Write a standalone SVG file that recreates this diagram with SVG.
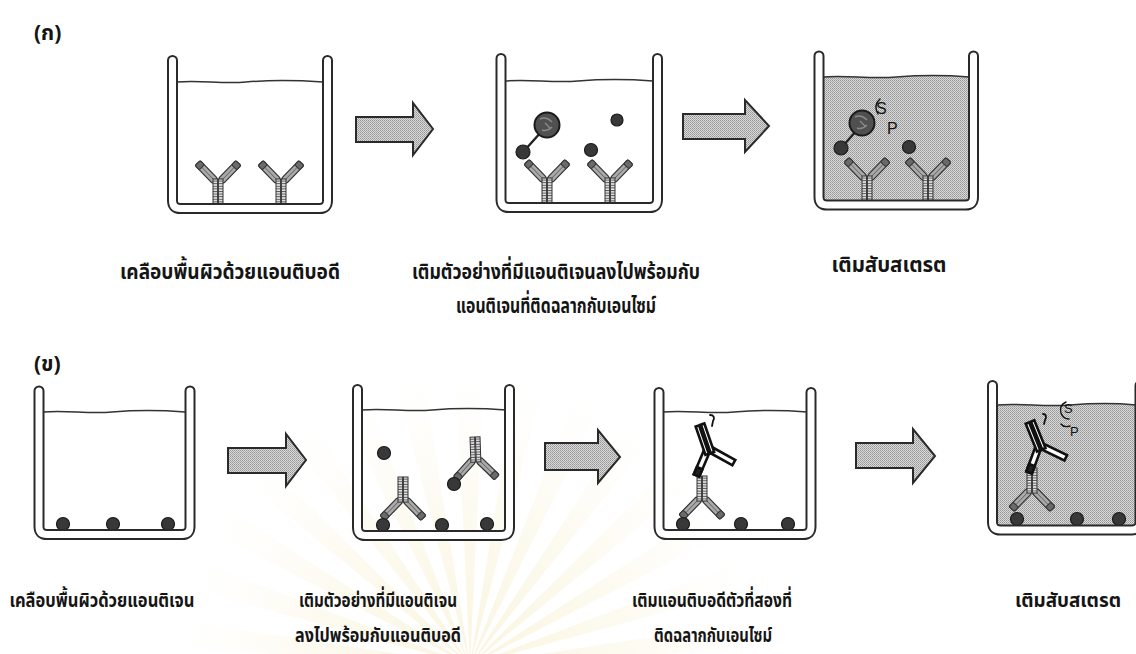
<svg xmlns="http://www.w3.org/2000/svg" xmlns:xlink="http://www.w3.org/1999/xlink" width="1136" height="654" viewBox="0 0 1136 654">
  <style>
    .wo { fill: none; stroke: #2a2a2a; stroke-width: 11; stroke-linecap: round; stroke-linejoin: round; }
    .wi { fill: none; stroke: #ffffff; stroke-width: 7; stroke-linecap: round; stroke-linejoin: round; }
    .liq { fill: none; stroke: #333; stroke-width: 1.5; }
    .shade { fill: url(#stip); }
    .arrow { fill: url(#stip); stroke: #2a2a2a; stroke-width: 2; stroke-linejoin: miter; }
    .ag { fill: #383838; stroke: #1a1a1a; stroke-width: 1.2; }
    .enz { fill: #505050; stroke: #1a1a1a; stroke-width: 2; }
    .enzmark { fill: none; stroke: #8a8a8a; stroke-width: 1.4; }
    .link { stroke: #222; stroke-width: 2.4; fill: none; }
    .tag { fill: none; stroke: #111; stroke-width: 1.8; stroke-linecap: round; }
    .sp { font-family: "Liberation Sans", Arial, sans-serif; font-size: 16px; fill: #111; }
    .lbl { font-family: "Noto Sans Thai", "Noto Sans", "DejaVu Sans", sans-serif; font-weight: bold; font-size: 22px; fill: #151515; text-anchor: middle; }
    .lbl2 { font-size: 20px; }
    .hd { font-family: "Noto Sans Thai", "Noto Sans", "DejaVu Sans", sans-serif; font-weight: bold; font-size: 21px; fill: #151515; }
  </style>
  <defs>
    <pattern id="stip" width="2" height="2" patternUnits="userSpaceOnUse">
      <rect width="2" height="2" fill="#dadada"/>
      <rect width="1" height="1" fill="#959595"/>
      <rect x="1" y="1" width="1" height="1" fill="#a8a8a8"/>
    </pattern>
    <pattern id="hatch" width="4" height="2.6" patternUnits="userSpaceOnUse">
      <rect width="4" height="2.6" fill="#e6e6e6"/>
      <rect width="4" height="1" fill="#555"/>
    </pattern>
    <radialGradient id="glow" gradientUnits="userSpaceOnUse" cx="0" cy="0" r="290">
      <stop offset="0" stop-color="#f1df9a" stop-opacity="0.32"/>
      <stop offset="0.55" stop-color="#f4e7b6" stop-opacity="0.2"/>
      <stop offset="1" stop-color="#f7efd2" stop-opacity="0"/>
    </radialGradient>
    <polygon id="ray" points="0,0 -14,-290 14,-290" fill="url(#glow)"/>

    <!-- grey antibody, base of stem at origin, arms pointing up -->
    <g id="ab">
      <g transform="translate(-3,-23) rotate(-44)">
        <rect x="-3.6" y="-25" width="7.2" height="25" rx="1.5" fill="#a9a9a9" stroke="#333" stroke-width="1.2"/>
        <line x1="0" y1="-25" x2="0" y2="0" stroke="#555" stroke-width="0.8"/>
        <rect x="-3.6" y="-25" width="7.2" height="6" rx="1.5" fill="#6a6a6a" stroke="#333" stroke-width="1"/>
      </g>
      <g transform="translate(3,-23) rotate(44)">
        <rect x="-3.6" y="-25" width="7.2" height="25" rx="1.5" fill="#a9a9a9" stroke="#333" stroke-width="1.2"/>
        <line x1="0" y1="-25" x2="0" y2="0" stroke="#555" stroke-width="0.8"/>
        <rect x="-3.6" y="-25" width="7.2" height="6" rx="1.5" fill="#6a6a6a" stroke="#333" stroke-width="1"/>
      </g>
      <rect x="-5" y="-25" width="4.6" height="25" fill="url(#hatch)" stroke="#333" stroke-width="1"/>
      <rect x="0.4" y="-25" width="4.6" height="25" fill="url(#hatch)" stroke="#333" stroke-width="1"/>
    </g>

    <!-- enzyme-labelled second antibody, drawn in heavy black -->
    <g id="abk">
      <g transform="translate(-3,-28) rotate(-42)">
        <rect x="-3" y="-25" width="6" height="25" fill="#fff" stroke="#111" stroke-width="2.6"/>
      </g>
      <g transform="translate(3,-28) rotate(42)">
        <rect x="-3" y="-25" width="6" height="25" fill="#fff" stroke="#111" stroke-width="2.6"/>
        <rect x="-3" y="-25" width="6" height="8" fill="#222" stroke="#111" stroke-width="2.6"/>
      </g>
      <rect x="-4.6" y="-30" width="3.6" height="30" fill="#fff" stroke="#111" stroke-width="2.6"/>
      <rect x="1" y="-30" width="3.6" height="30" fill="#fff" stroke="#111" stroke-width="2.6"/>
    </g>

    <!-- well outlines (centre line of the double wall) -->
    <path id="p1" d="M172.5,60.5 V200.5 Q172.5,208.5 180.5,208.5 H319.5 Q327.5,208.5 327.5,200.5 V60.5"/>
    <path id="p2" d="M501,58.5 V199.5 Q501,207.5 509,207.5 H649.5 Q657.5,207.5 657.5,199.5 V58.5"/>
    <path id="p3" d="M819,56 V197 Q819,205 827,205 H965.5 Q973.5,205 973.5,197 V56"/>
    <path id="p4" d="M39,391 V526.5 Q39,534.5 47,534.5 H182 Q190,534.5 190,526.5 V391"/>
    <path id="p5" d="M357.5,389.5 V527.5 Q357.5,535.5 365.5,535.5 H501.5 Q509.5,535.5 509.5,527.5 V389.5"/>
    <path id="p6" d="M659,392.5 V526.5 Q659,534.5 667,534.5 H803 Q811,534.5 811,526.5 V392.5"/>
    <path id="p7" d="M992.5,385.5 V522 Q992.5,530 1000.5,530 H1132 Q1140,530 1140,522 V385.5"/>
  </defs>

  <rect width="1136" height="654" fill="#ffffff"/>

  <!-- faint sunburst mark behind the lower row -->
  <g id="sunburst">
    <use xlink:href="#ray" transform="translate(470,665) rotate(-84)"/>
    <use xlink:href="#ray" transform="translate(470,665) rotate(-72)"/>
    <use xlink:href="#ray" transform="translate(470,665) rotate(-60)"/>
    <use xlink:href="#ray" transform="translate(470,665) rotate(-48)"/>
    <use xlink:href="#ray" transform="translate(470,665) rotate(-36)"/>
    <use xlink:href="#ray" transform="translate(470,665) rotate(-24)"/>
    <use xlink:href="#ray" transform="translate(470,665) rotate(-12)"/>
    <use xlink:href="#ray" transform="translate(470,665) rotate(0)"/>
    <use xlink:href="#ray" transform="translate(470,665) rotate(12)"/>
    <use xlink:href="#ray" transform="translate(470,665) rotate(24)"/>
    <use xlink:href="#ray" transform="translate(470,665) rotate(36)"/>
    <use xlink:href="#ray" transform="translate(470,665) rotate(48)"/>
    <use xlink:href="#ray" transform="translate(470,665) rotate(60)"/>
    <use xlink:href="#ray" transform="translate(470,665) rotate(72)"/>
    <use xlink:href="#ray" transform="translate(470,665) rotate(84)"/>
  </g>

  <text class="hd" x="34" y="40">(ก)</text>
  <text class="hd" x="34" y="371">(ข)</text>

  <!-- (ก) step 1: antibody-coated well -->
  <g id="well-a1">
    <path class="liq" d="M177,82 C200,80 222,84 246,82 S292,80 323,82"/>
    <use xlink:href="#ab" x="218" y="204"/>
    <use xlink:href="#ab" x="281" y="204"/>
    <use xlink:href="#p1" class="wo"/>
    <use xlink:href="#p1" class="wi"/>
  </g>

  <!-- (ก) step 2: sample antigen + enzyme-labelled antigen -->
  <g id="well-a2">
    <path class="liq" d="M505,81 C530,79 552,83 578,81 S625,79 653,81"/>
    <use xlink:href="#ab" x="547" y="203"/>
    <use xlink:href="#ab" x="610" y="203"/>
    <line class="link" x1="524" y1="151" x2="542" y2="131"/>
    <circle class="enz" cx="547" cy="125" r="12.5"/>
    <path class="enzmark" d="M540,119 q6,-3 12,3 M542,130 q5,2 10,-3 M545,123 l5,5"/>
    <circle class="ag" cx="523" cy="152" r="7"/>
    <circle class="ag" cx="617" cy="120" r="6"/>
    <circle class="ag" cx="591" cy="150" r="6.5"/>
    <use xlink:href="#p2" class="wo"/>
    <use xlink:href="#p2" class="wi"/>
  </g>

  <!-- (ก) step 3: substrate added -->
  <g id="well-a3">
    <path class="shade" d="M819,77 C845,75 870,79 896,77 S945,75 973.5,77 V205 H819 Z"/>
    <path class="liq" d="M823,77 C845,75 870,79 896,77 S945,75 969,77"/>
    <use xlink:href="#ab" x="867" y="201"/>
    <use xlink:href="#ab" x="928" y="201"/>
    <line class="link" x1="842" y1="147" x2="857" y2="130"/>
    <circle class="enz" cx="862" cy="123" r="12.5"/>
    <path class="enzmark" d="M855,117 q6,-3 12,3 M857,128 q5,2 10,-3 M860,121 l5,5"/>
    <circle class="ag" cx="841" cy="148" r="7"/>
    <circle class="ag" cx="909" cy="147" r="6.5"/>
    <path class="tag" d="M880,99 q-7,6 -2,15" style="stroke-width:1.4"/>
    <text class="sp" x="876" y="114">S</text>
    <text class="sp" x="887" y="134">P</text>
    <use xlink:href="#p3" class="wo"/>
    <use xlink:href="#p3" class="wi"/>
  </g>

  <!-- (ข) step 1: antigen-coated well -->
  <g id="well-b1">
    <path class="liq" d="M43,412 C66,410 88,414 112,412 S160,410 185,412"/>
    <circle class="ag" cx="63" cy="524" r="6.5"/>
    <circle class="ag" cx="113" cy="524" r="6.5"/>
    <circle class="ag" cx="168" cy="524" r="6.5"/>
    <use xlink:href="#p4" class="wo"/>
    <use xlink:href="#p4" class="wi"/>
  </g>

  <!-- (ข) step 2: sample antigen + antibody -->
  <g id="well-b2">
    <path class="liq" d="M362,410 C385,408 408,412 432,410 S480,408 506,410"/>
    <circle class="ag" cx="384" cy="453" r="6.5"/>
    <use xlink:href="#ab" transform="translate(403,477) rotate(180)"/>
    <use xlink:href="#ab" transform="translate(475,437) rotate(178)"/>
    <circle class="ag" cx="454" cy="484" r="6.5"/>
    <circle class="ag" cx="383" cy="525" r="6.5"/>
    <circle class="ag" cx="442" cy="525" r="6.5"/>
    <circle class="ag" cx="487" cy="524" r="6.5"/>
    <use xlink:href="#p5" class="wo"/>
    <use xlink:href="#p5" class="wi"/>
  </g>

  <!-- (ข) step 3: enzyme-labelled second antibody -->
  <g id="well-b3">
    <path class="liq" d="M663,412 C686,410 710,414 734,412 S782,410 807,412"/>
    <use xlink:href="#ab" transform="translate(702,476) rotate(180)"/>
    <use xlink:href="#abk" transform="translate(700,425) rotate(161)"/>
    <path class="tag" d="M710,415 c4,0 5,3 3,6 l-1,5"/>
    <circle class="ag" cx="683" cy="524" r="6.5"/>
    <circle class="ag" cx="741" cy="524" r="6.5"/>
    <circle class="ag" cx="788" cy="524" r="6.5"/>
    <use xlink:href="#p6" class="wo"/>
    <use xlink:href="#p6" class="wi"/>
  </g>

  <!-- (ข) step 4: substrate added -->
  <g id="well-b4">
    <path class="shade" d="M992.5,405 C1020,403 1045,407 1070,405 S1115,403 1140,405 V530 H992.5 Z"/>
    <path class="liq" d="M997,405 C1020,403 1045,407 1070,405 S1115,403 1136,405"/>
    <use xlink:href="#ab" transform="translate(1032,468) rotate(180)"/>
    <use xlink:href="#abk" transform="translate(1030,422) rotate(158)"/>
    <path class="tag" d="M1043,414 c3,0 4,3 2,6 l-1,4"/>
    <path class="tag" d="M1066,402 q-7,3 -5,11 q2,6 8,6 M1061,424 q3,4 9,2" style="stroke-width:1.4"/>
    <text class="sp" x="1064" y="413" style="font-size:13px">S</text>
    <text class="sp" x="1070" y="436" style="font-size:13px">P</text>
    <circle class="ag" cx="1017" cy="519" r="6.5"/>
    <circle class="ag" cx="1077" cy="519" r="6.5"/>
    <circle class="ag" cx="1119" cy="519" r="6.5"/>
    <use xlink:href="#p7" class="wo"/>
    <use xlink:href="#p7" class="wi"/>
  </g>

  <!-- process arrows -->
  <g id="connectors">
    <path class="arrow" d="M356,117 H413 V103 L433,129 L413,155 V142 H356 Z"/>
    <path class="arrow" d="M683,114 H745 V100 L769,126 L745,152 V139 H683 Z"/>
    <path class="arrow" d="M228,448 H286 V434 L306,460 L286,486 V473 H228 Z"/>
    <path class="arrow" d="M545,443 H598 V430 L620,457 L598,483 V470 H545 Z"/>
    <path class="arrow" d="M856,443 H913 V429 L935,456 L913,483 V468 H856 Z"/>
  </g>

  <!-- captions -->
  <g id="captions">
    <text class="lbl" x="230" y="279" textLength="220" lengthAdjust="spacingAndGlyphs">เคลือบพื้นผิวด้วยแอนติบอดี</text>
    <text class="lbl" x="556" y="279" textLength="288" lengthAdjust="spacingAndGlyphs">เติมตัวอย่างที่มีแอนติเจนลงไปพร้อมกับ</text>
    <text class="lbl" x="556" y="313" textLength="200" lengthAdjust="spacingAndGlyphs">แอนติเจนที่ติดฉลากกับเอนไซม์</text>
    <text class="lbl" x="889" y="272" textLength="115" lengthAdjust="spacingAndGlyphs">เติมสับสเตรต</text>
    <text class="lbl lbl2" x="102" y="607" textLength="185" lengthAdjust="spacingAndGlyphs">เคลือบพื้นผิวด้วยแอนติเจน</text>
    <text class="lbl lbl2" x="378" y="607" textLength="158" lengthAdjust="spacingAndGlyphs">เติมตัวอย่างที่มีแอนติเจน</text>
    <text class="lbl lbl2" x="378" y="642" textLength="166" lengthAdjust="spacingAndGlyphs">ลงไปพร้อมกับแอนติบอดี</text>
    <text class="lbl lbl2" x="712" y="607" textLength="160" lengthAdjust="spacingAndGlyphs">เติมแอนติบอดีตัวที่สองที่</text>
    <text class="lbl lbl2" x="713" y="642" textLength="118" lengthAdjust="spacingAndGlyphs">ติดฉลากกับเอนไซม์</text>
    <text class="lbl lbl2" x="1068" y="607" textLength="106" lengthAdjust="spacingAndGlyphs">เติมสับสเตรต</text>
  </g>
</svg>
